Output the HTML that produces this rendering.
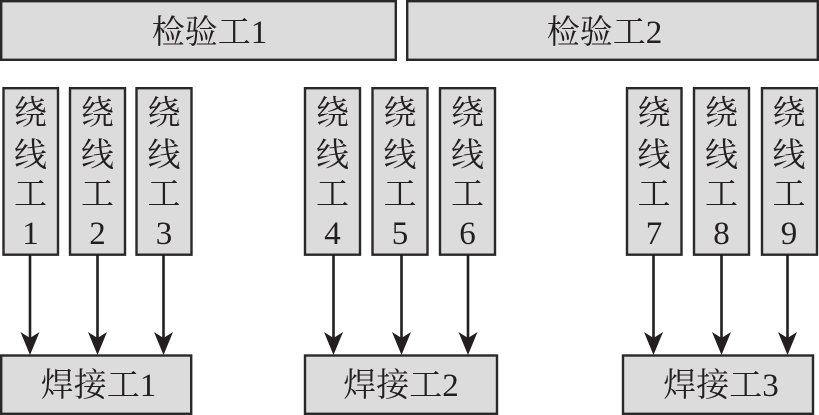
<!DOCTYPE html>
<html><head><meta charset="utf-8"><style>
html,body{margin:0;padding:0;background:#fff}
svg{display:block}
text{font-family:"Liberation Serif","Noto Serif CJK SC",serif;font-size:33px;fill:#231f20;text-anchor:middle}
.b{fill:#dcdcdc;stroke:#2b2829;stroke-width:2.4}
.l{stroke:#231f20;stroke-width:2.6;fill:none}
.h{fill:#231f20;stroke:none}
</style></head><body>
<svg width="819" height="415" viewBox="0 0 819 415" xmlns="http://www.w3.org/2000/svg">
<rect class="b" x="1.2" y="1.2" width="394.6" height="58.6"/>
<rect class="b" x="407.2" y="1.2" width="410.6" height="58.6"/>
<text x="209.500" y="43">检验工1</text>
<text x="604.500" y="43">检验工2</text>

<rect class="b" x="3.5" y="88.2" width="54.5" height="166.5"/>
<rect class="b" x="70" y="88.2" width="55" height="166.5"/>
<rect class="b" x="136.5" y="88.2" width="55" height="166.5"/>
<rect class="b" x="305" y="88.2" width="55" height="166.5"/>
<rect class="b" x="372.5" y="88.2" width="55" height="166.5"/>
<rect class="b" x="440" y="88.2" width="55" height="166.5"/>
<rect class="b" x="627" y="88.2" width="54.5" height="166.5"/>
<rect class="b" x="694" y="88.2" width="55" height="166.5"/>
<rect class="b" x="762" y="88.2" width="55" height="166.5"/>

<g>
<text x="30.5" y="124">绕</text><text x="30.5" y="166">线</text><text x="30.5" y="205">工</text><text x="30.5" y="244">1</text>
<text x="97.5" y="124">绕</text><text x="97.5" y="166">线</text><text x="97.5" y="205">工</text><text x="97.5" y="244">2</text>
<text x="164" y="124">绕</text><text x="164" y="166">线</text><text x="164" y="205">工</text><text x="164" y="244">3</text>
<text x="332.5" y="124">绕</text><text x="332.5" y="166">线</text><text x="332.5" y="205">工</text><text x="332.5" y="244">4</text>
<text x="400" y="124">绕</text><text x="400" y="166">线</text><text x="400" y="205">工</text><text x="400" y="244">5</text>
<text x="467.5" y="124">绕</text><text x="467.5" y="166">线</text><text x="467.5" y="205">工</text><text x="467.5" y="244">6</text>
<text x="654" y="124">绕</text><text x="654" y="166">线</text><text x="654" y="205">工</text><text x="654" y="244">7</text>
<text x="721.5" y="124">绕</text><text x="721.5" y="166">线</text><text x="721.5" y="205">工</text><text x="721.5" y="244">8</text>
<text x="789" y="124">绕</text><text x="789" y="166">线</text><text x="789" y="205">工</text><text x="789" y="244">9</text>
</g>

<rect class="b" x="1.2" y="355.5" width="190" height="58.3"/>
<rect class="b" x="305" y="355.5" width="192" height="58.3"/>
<rect class="b" x="623" y="355.5" width="190" height="58.3"/>
<text x="98.500" y="396">焊接工1</text>
<text x="401" y="396">焊接工2</text>
<text x="721" y="396">焊接工3</text>

<g>
<path class="l" d="M30 255V340M97.500 255V340M163.500 255V340M333.500 255V340M401.500 255V340M468 255V340M653.500 255V340M721.500 255V340M787.500 255V340"/>
<path class="h" d="M20.500 332L30 338L39.500 332L30 355Z"/>
<path class="h" d="M88 332L97.500 338L107 332L97.500 355Z"/>
<path class="h" d="M154 332L163.500 338L173 332L163.500 355Z"/>
<path class="h" d="M324 332L333.500 338L343 332L333.500 355Z"/>
<path class="h" d="M392 332L401.500 338L411 332L401.500 355Z"/>
<path class="h" d="M458.500 332L468 338L477.500 332L468 355Z"/>
<path class="h" d="M644 332L653.500 338L663 332L653.500 355Z"/>
<path class="h" d="M712 332L721.500 338L731 332L721.500 355Z"/>
<path class="h" d="M778 332L787.500 338L797 332L787.500 355Z"/>
</g>
</svg>
</body></html>
